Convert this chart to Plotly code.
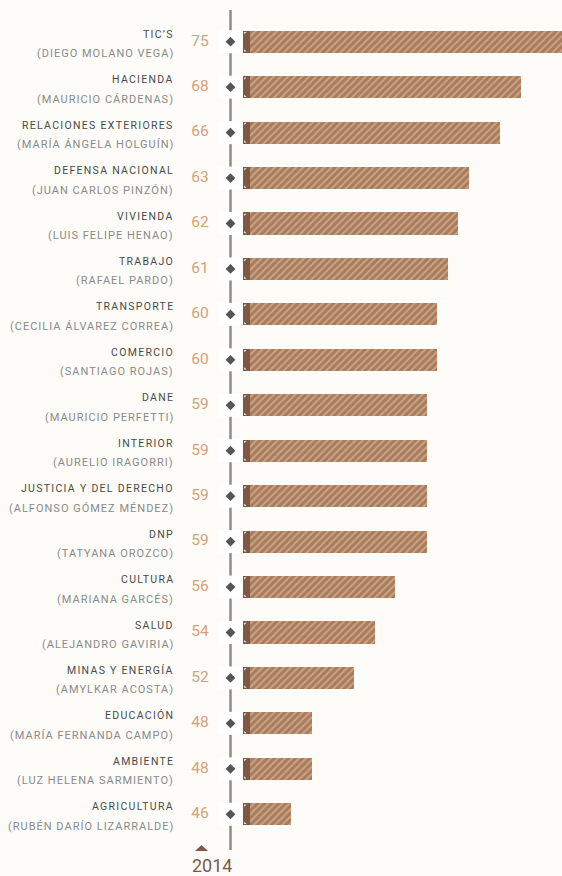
import plotly.graph_objects as go

# ---- data ----
ministries = ["TIC’S", "HACIENDA", "RELACIONES EXTERIORES", "DEFENSA NACIONAL", "VIVIENDA",
              "TRABAJO", "TRANSPORTE", "COMERCIO", "DANE", "INTERIOR",
              "JUSTICIA Y DEL DERECHO", "DNP", "CULTURA", "SALUD", "MINAS Y ENERGÍA",
              "EDUCACIÓN", "AMBIENTE", "AGRICULTURA"]
ministers = ["(DIEGO MOLANO VEGA)", "(MAURICIO CÁRDENAS)", "(MARÍA ÁNGELA HOLGUÍN)",
             "(JUAN CARLOS PINZÓN)", "(LUIS FELIPE HENAO)", "(RAFAEL PARDO)",
             "(CECILIA ÁLVAREZ CORREA)", "(SANTIAGO ROJAS)", "(MAURICIO PERFETTI)",
             "(AURELIO IRAGORRI)", "(ALFONSO GÓMEZ MÉNDEZ)", "(TATYANA OROZCO)",
             "(MARIANA GARCÉS)", "(ALEJANDRO GAVIRIA)", "(AMYLKAR ACOSTA)",
             "(MARÍA FERNANDA CAMPO)", "(LUZ HELENA SARMIENTO)", "(RUBÉN DARÍO LIZARRALDE)"]
scores = [75, 68, 66, 63, 62, 61, 60, 60, 59, 59, 59, 59, 56, 54, 52, 48, 48, 46]
year_label = "2014"

# ---- style ----
BG = "#fdfcf8"
BROWN = "#7b5641"
TAN = "#d0a37f"
CAP = "#7f5843"
VAL_COLOR = "#d6a078"
DARK = "#4a4a4a"
GREY = "#8a8a8a"
AXIS_GREY = "#8c8c8c"
FONT = "Roboto"

W, H = 562, 876
BAR_LEFT_PX = 243
PX_PER_UNIT = 10.44
BASE = 41.4
CAP_UNITS = 0.65
BAR_W = 0.485
TOP, BOTTOM = 19, 39

n = len(ministries)
ys = list(range(n))
row_px = (H - TOP - BOTTOM) / n

fig = go.Figure()

# hatched bars
fig.add_trace(go.Bar(
    y=ys, x=[s - BASE for s in scores], base=BASE, orientation="h",
    width=BAR_W, xaxis="x", yaxis="y",
    marker=dict(color=TAN, line=dict(width=0),
                pattern=dict(shape="/", fgcolor=BROWN, bgcolor=TAN, size=5,
                             solidity=0.6, fillmode="overlay")),
    hoverinfo="skip", showlegend=False))
# solid cap at the start of each bar
fig.add_trace(go.Bar(
    y=ys, x=[CAP_UNITS] * n, base=BASE, orientation="h",
    width=BAR_W, xaxis="x", yaxis="y",
    marker=dict(color=CAP, line=dict(width=0)),
    hoverinfo="skip", showlegend=False))
# chamfered corners of the cap (right-angle triangles in background colour)
off = 2.0
fig.add_trace(go.Scatter(
    x=[BASE + off / PX_PER_UNIT] * n, y=[i - BAR_W / 2 + off / row_px for i in ys],
    xaxis="x", yaxis="y", mode="markers",
    marker=dict(symbol="triangle-nw", size=2.5, color=BG, line=dict(width=0)),
    hoverinfo="skip", showlegend=False, cliponaxis=False))
fig.add_trace(go.Scatter(
    x=[BASE + off / PX_PER_UNIT] * n, y=[i + BAR_W / 2 - off / row_px for i in ys],
    xaxis="x", yaxis="y", mode="markers",
    marker=dict(symbol="triangle-sw", size=2.5, color=BG, line=dict(width=0)),
    hoverinfo="skip", showlegend=False, cliponaxis=False))

# white boxes + diamonds on the timeline
AXIS_X = 230.5
fig.add_trace(go.Scatter(
    x=[AXIS_X] * n, y=ys, xaxis="x2", yaxis="y", mode="markers",
    marker=dict(symbol="square", size=23, color="white", line=dict(width=0)),
    hoverinfo="skip", showlegend=False, cliponaxis=False))
fig.add_trace(go.Scatter(
    x=[AXIS_X] * n, y=ys, xaxis="x2", yaxis="y", mode="markers",
    marker=dict(symbol="diamond", size=7.5, color="#555555", line=dict(width=0)),
    hoverinfo="skip", showlegend=False, cliponaxis=False))
# value labels
fig.add_trace(go.Scatter(
    x=[200] * n, y=ys, xaxis="x2", yaxis="y", mode="text",
    text=[str(s) for s in scores], textposition="middle center",
    textfont=dict(family=FONT, size=15.5, color=VAL_COLOR),
    hoverinfo="skip", showlegend=False, cliponaxis=False))

annotations = []
for i, (m, p) in enumerate(zip(ministries, ministers)):
    annotations.append(dict(
        x=176, y=i, xref="x2", yref="y", xanchor="right", yanchor="middle",
        yshift=7.5, showarrow=False,
        text=f'<span style="letter-spacing:1.3px">{m}</span>',
        font=dict(family=FONT, size=10.5, color=DARK)))
    annotations.append(dict(
        x=176, y=i, xref="x2", yref="y", xanchor="right", yanchor="middle",
        yshift=-12, showarrow=False,
        text=f'<span style="letter-spacing:1px">{p}</span>',
        font=dict(family=FONT, size=11, color=GREY)))
annotations.append(dict(
    x=212, y=0, xref="x2", yref="paper", xanchor="center", yanchor="middle",
    yshift=-28, showarrow=False, text=year_label,
    font=dict(family=FONT, size=18, color="#7a5a48")))

plot_h = H - TOP - BOTTOM
fig.update_layout(
    width=W, height=H,
    margin=dict(l=0, r=0, t=TOP, b=BOTTOM, pad=0),
    paper_bgcolor=BG, plot_bgcolor=BG,
    barmode="overlay", bargap=0,
    showlegend=False,
    xaxis=dict(domain=[BAR_LEFT_PX / W, 1],
               range=[BASE, BASE + (W - BAR_LEFT_PX) / PX_PER_UNIT],
               visible=False, fixedrange=True),
    xaxis2=dict(domain=[0, BAR_LEFT_PX / W], range=[0, BAR_LEFT_PX],
                visible=False, fixedrange=True, anchor="y"),
    yaxis=dict(range=[n - 0.5, -0.5], visible=False, fixedrange=True),
    annotations=annotations,
    shapes=[
        dict(type="line", xref="x2", yref="paper", x0=AXIS_X, x1=AXIS_X,
             y0=-(850 - (H - BOTTOM)) / plot_h, y1=1 + (TOP - 10) / plot_h,
             line=dict(color=AXIS_GREY, width=2.5), layer="below"),
        dict(type="path", xref="x2", yref="paper", xsizemode="pixel", ysizemode="pixel",
             xanchor=201.5, yanchor=0, path="M-6.5,-14 L6.5,-14 L0,-8 Z",
             fillcolor=CAP, line=dict(width=0), layer="above"),
    ],
)

fig.write_html("out.html", config={"displayModeBar": False},
               post_script="document.body.style.margin='0';document.body.style.overflow='hidden';"
                           "document.body.style.background='" + BG + "';")
